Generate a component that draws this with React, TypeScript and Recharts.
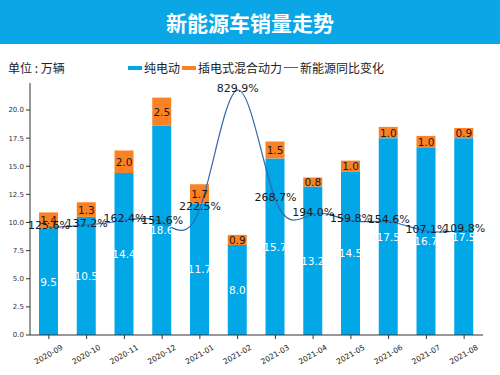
import { ComposedChart, Bar, Line, XAxis, YAxis, LabelList } from 'recharts';

const months = [
  '2020-09', '2020-10', '2020-11', '2020-12', '2021-01', '2021-02',
  '2021-03', '2021-04', '2021-05', '2021-06', '2021-07', '2021-08',
];
const bev = [9.5, 10.5, 14.4, 18.6, 11.7, 8.0, 15.7, 13.2, 14.5, 17.5, 16.7, 17.5];
const phev = [1.4, 1.3, 2.0, 2.5, 1.7, 0.9, 1.5, 0.8, 1.0, 1.0, 1.0, 0.9];
const growth = [125.6, 137.2, 162.4, 151.6, 222.5, 829.9, 268.7, 194.0, 159.8, 154.6, 107.1, 109.8];
const yTicks = [0, 2.5, 5, 7.5, 10, 12.5, 15, 17.5, 20];

const BLUE = '#02a7e8';
const ORANGE = '#fb8224';
const LINE = '#3569a6';
const NUM_FONT = '"DejaVu Sans", sans-serif';
const CJK_FONT = '"Noto Sans CJK SC", sans-serif';

const rows = months.map((m, i) => ({
  month: m,
  bev: bev[i],
  phev: phev[i],
  growth: growth[i],
}));

function XTick(props: any) {
  const { x, y, payload } = props;
  const cy = y + 14;
  return (
    <text
      x={x}
      y={cy}
      textAnchor="middle"
      dominantBaseline="middle"
      fontSize={7.5}
      fontFamily={NUM_FONT}
      fill="#222"
      transform={`rotate(-30, ${x}, ${cy})`}
    >
      {payload.value}
    </text>
  );
}

function BarLabel(color: string) {
  return (props: any) => {
    const { x, y, width, height, value } = props;
    return (
      <text
        x={x + width / 2}
        y={y + height / 2}
        textAnchor="middle"
        dominantBaseline="central"
        fontSize={10.5}
        fontFamily={NUM_FONT}
        fill={color}
      >
        {Number(value).toFixed(1)}
      </text>
    );
  };
}

function GrowthLabel(props: any) {
  const { x, y, value } = props;
  return (
    <text
      x={x}
      y={y - 2}
      textAnchor="middle"
      dominantBaseline="central"
      fontSize={11}
      fontFamily={NUM_FONT}
      fill="#1a1a1a"
    >
      {Number(value).toFixed(1)}%
    </text>
  );
}

export default function App() {
  return (
    <div
      style={{
        position: 'fixed',
        top: 0,
        left: 0,
        width: 500,
        height: 375,
        background: '#fff',
        overflow: 'hidden',
      }}
    >
      <div
        style={{
          position: 'absolute',
          top: 0,
          left: 0,
          width: 500,
          height: 44,
          background: '#0aa6e6',
          color: '#fff',
          fontFamily: CJK_FONT,
          fontWeight: 700,
          fontSize: 21,
          lineHeight: '44px',
          textAlign: 'center',
        }}
      >
        新能源车销量走势
      </div>
      <div
        style={{
          position: 'absolute',
          top: 59,
          left: 8,
          fontFamily: CJK_FONT,
          fontSize: 12,
          color: '#222',
        }}
      >
        单位 : 万辆
      </div>
      <div
        style={{
          position: 'absolute',
          top: 59,
          left: 128,
          display: 'flex',
          alignItems: 'center',
          fontFamily: CJK_FONT,
          fontSize: 12,
          color: '#222',
          whiteSpace: 'nowrap',
        }}
      >
        <span style={{ width: 14, height: 4, background: BLUE, marginRight: 2 }} />
        <span style={{ marginRight: 2 }}>纯电动</span>
        <span style={{ width: 14, height: 4, background: ORANGE, marginRight: 2 }} />
        <span style={{ marginRight: 2 }}>插电式混合动力</span>
        <span style={{ width: 14, height: 1.5, background: LINE, marginRight: 2 }} />
        <span>新能源同比变化</span>
      </div>
      <div style={{ position: 'absolute', top: 0, left: 0 }}>
        <ComposedChart
          width={500}
          height={375}
          data={rows}
          margin={{ top: 83, right: 17, bottom: 0, left: 0 }}
        >
          <XAxis
            dataKey="month"
            height={40}
            tick={<XTick />}
            tickLine={{ stroke: '#333' }}
            tickSize={4}
            axisLine={{ stroke: '#333' }}
            interval={0}
          />
          <YAxis
            yAxisId="left"
            width={30}
            domain={[0, 22.4]}
            ticks={yTicks}
            tickFormatter={(v: number) => v.toFixed(1)}
            tick={{ fontSize: 7, fill: '#333', fontFamily: NUM_FONT }}
            tickLine={{ stroke: '#333' }}
            tickSize={4}
            axisLine={{ stroke: '#333' }}
            allowDataOverflow
          />
          <YAxis yAxisId="right" orientation="right" hide domain={[-426, 866]} allowDataOverflow />
          <Bar
            yAxisId="left"
            dataKey="bev"
            stackId="s"
            fill={BLUE}
            barSize={19}
            isAnimationActive={false}
          >
            <LabelList dataKey="bev" content={BarLabel('#ffffff')} />
          </Bar>
          <Bar
            yAxisId="left"
            dataKey="phev"
            stackId="s"
            fill={ORANGE}
            barSize={19}
            isAnimationActive={false}
          >
            <LabelList dataKey="phev" content={BarLabel('#1a1a1a')} />
          </Bar>
          <Line
            yAxisId="right"
            type="natural"
            dataKey="growth"
            stroke={LINE}
            strokeWidth={1.2}
            dot={false}
            isAnimationActive={false}
          >
            <LabelList dataKey="growth" content={GrowthLabel} />
          </Line>
        </ComposedChart>
      </div>
    </div>
  );
}
